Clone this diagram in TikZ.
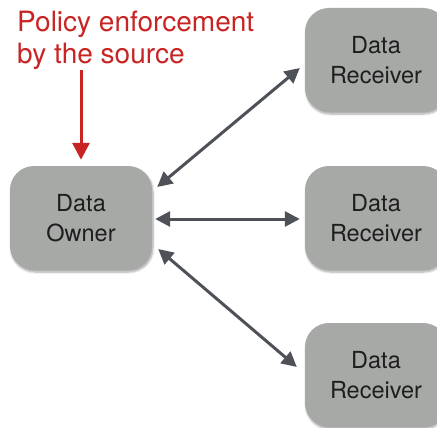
\documentclass[tikz,border=0pt]{standalone}
\usepackage{fontspec}
\setmainfont{TeX Gyre Heros}
\usetikzlibrary{arrows.meta,shadows.blur}
\definecolor{boxgray}{RGB}{166,169,166}
\definecolor{linkgray}{RGB}{78,82,88}
\definecolor{notered}{RGB}{200,36,36}
\definecolor{boxtext}{RGB}{30,30,30}
\tikzset{
  party/.style={draw=none, fill=boxgray, rounded corners=24pt,
    minimum width=142pt, minimum height=104pt, align=center,
    text=boxtext, font=\fontsize{23.5}{30}\selectfont,
    blur shadow={shadow xshift=1pt, shadow yshift=-2pt,
      shadow blur steps=6, shadow opacity=35}},
  link/.style={draw=linkgray, line width=3pt,
    {Triangle[length=15pt,width=15pt]}-{Triangle[length=15pt,width=15pt]}},
  enforce/.style={draw=notered, line width=3pt,
    -{Triangle[length=17pt,width=17pt]}},
  note/.style={text=notered, align=left, inner sep=0pt,
    font=\fontsize{28}{32}\selectfont}
}
\begin{document}
\begin{tikzpicture}[x=1pt,y=1pt]
  \useasboundingbox (0,0) rectangle (437,-428);
  \clip (0,0) rectangle (437,-428);

  % parties
  \node[party] (owner) at (81,-218) {Data\\Owner};
  \node[party] (recvA) at (376,-60)  {Data\\Receiver};
  \node[party] (recvB) at (376,-218) {Data\\Receiver};
  \node[party] (recvC) at (376,-375) {Data\\Receiver};

  % annotation
  \node[note, anchor=north west] (policy) at (17,-11)
    {Policy enforcement\\by the source};
  \draw[enforce] ([yshift=96pt]owner.north) -- ([yshift=6pt]owner.north);

  % data flows
  \draw[link] ([shift={(5,31)}]owner.east) -- ([shift={(-5,-8)}]recvA.west);
  \draw[link] ([xshift=3pt,yshift=-1pt]owner.east) -- ([xshift=-5pt,yshift=-1pt]recvB.west);
  \draw[link] ([shift={(6,-31)}]owner.east) -- ([shift={(-8,8)}]recvC.west);
\end{tikzpicture}
\end{document}
